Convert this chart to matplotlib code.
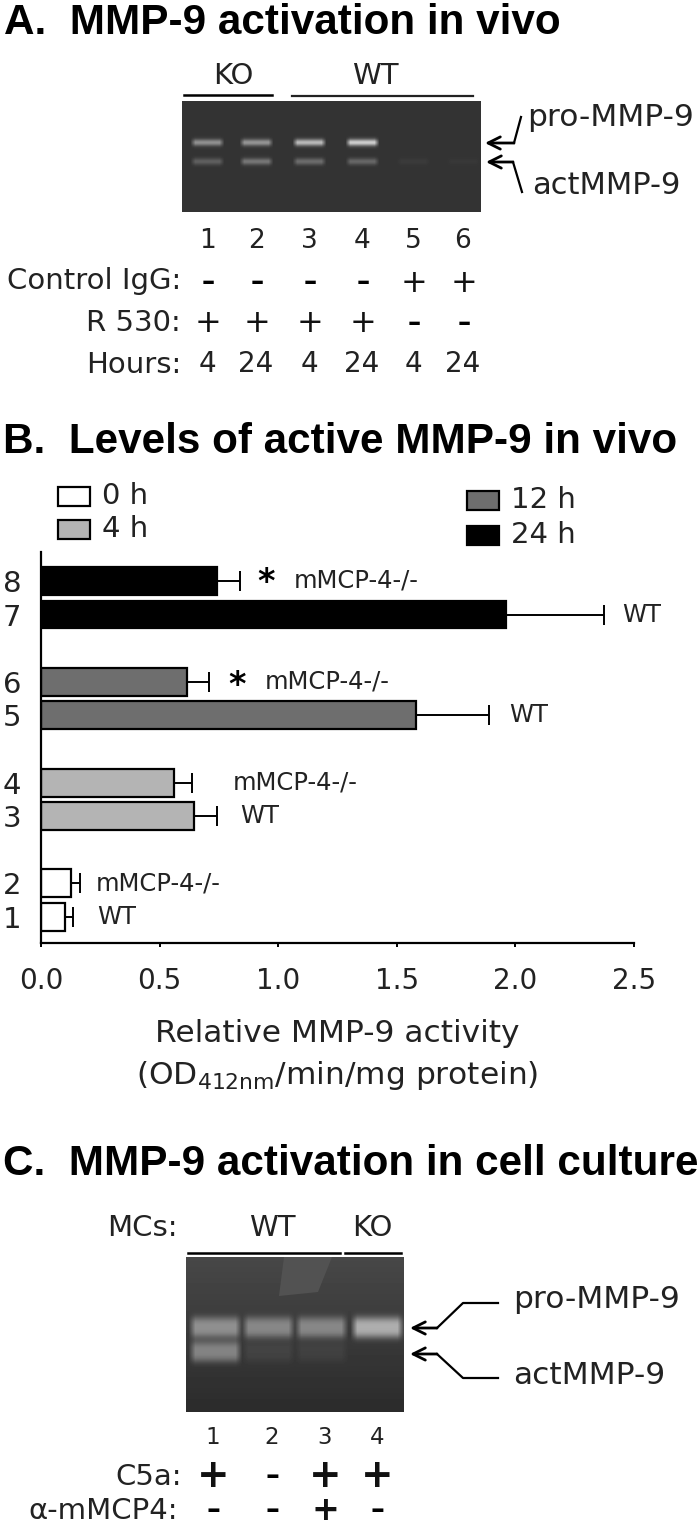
import numpy as np
import matplotlib
matplotlib.use("Agg")
import matplotlib.pyplot as plt
from matplotlib.patches import Rectangle, Polygon

plt.rcParams['font.family'] = ['DejaVu Sans']
plt.rcParams['mathtext.default'] = 'regular'

# Bar chart data (panel B)
lane_numbers = [1, 2, 3, 4, 5, 6, 7, 8]
activity = [0.10, 0.125, 0.645, 0.56, 1.58, 0.615, 1.96, 0.74]
activity_err = [0.035, 0.04, 0.095, 0.075, 0.31, 0.095, 0.415, 0.10]
bar_pos = [1, 2, 4, 5, 7, 8, 10, 11]
bar_colors = ['#ffffff', '#ffffff', '#b4b4b4', '#b4b4b4', '#6e6e6e', '#6e6e6e', '#000000', '#000000']
bar_labels = ['WT', 'mMCP-4-/-', 'WT', 'mMCP-4-/-', 'WT', 'mMCP-4-/-', 'WT', 'mMCP-4-/-']
label_x = [0.236, 0.232, 0.84, 0.81, 1.975, 0.945, 2.45, 1.067]
x_ticks = [0.0, 0.5, 1.0, 1.5, 2.0, 2.5]

# Gel bands, brightness by lane
gel_a_lanes = [207, 256, 309, 362, 413, 463]
gel_a_pro = [0.36, 0.38, 0.52, 0.60, 0.0, 0.0]
gel_a_act = [0.17, 0.26, 0.22, 0.20, 0.03, 0.02]
gel_c_lanes = [215, 268, 321, 377]
gel_c_pro = [0.33, 0.30, 0.30, 0.45]
gel_c_act = [0.30, 0.05, 0.04, 0.0]

# Lane sign rows
control_igg = ['-', '-', '-', '-', '+', '+']
r530 = ['+', '+', '+', '+', '-', '-']
hours = ['4', '24', '4', '24', '4', '24']
c5a = ['+', '-', '+', '+']
anti_mmcp4 = ['-', '-', '+', '-']

fig = plt.figure(figsize=(7.0, 15.29), dpi=100)

# Overlay in pixel coordinates for gels, text and arrows
over = fig.add_axes([0, 0, 1, 1])
over.axis('off')


def gel_image(x0, x1, y0, y1, lanes, pro, act, pro_y, act_y, half_w, soft, sig_y, power, bg_top, bg_bot):
    xx, yy = np.meshgrid(np.arange(x0, x1), np.arange(y0, y1))
    img = bg_top + (bg_bot - bg_top) * (yy - y0) / (y1 - y0)
    for cx, p, a in zip(lanes, pro, act):
        edge = np.clip((half_w - np.abs(xx - cx)) / soft, 0, 1)
        img = img + p * edge * np.exp(-(np.abs(yy - pro_y) / sig_y) ** power)
        img = img + a * edge * np.exp(-(np.abs(yy - act_y) / sig_y) ** power)
    return img


def label(x, y, s, size=21, ha='left', **kw):
    over.text(x, y, s, fontsize=size, ha=ha, va='center', color='#222222', **kw)


def heading(x, y, s):
    over.text(x, y, s, fontsize=30.4, ha='left', va='center', color='black',
              fontweight='bold', family='Liberation Sans')


def arrow(x_tip, y_tip, x_tail, y_tail):
    over.annotate('', xy=(x_tip, y_tip), xytext=(x_tail, y_tail),
                  arrowprops=dict(arrowstyle='->', color='black', lw=2, mutation_scale=22,
                                  shrinkA=0, shrinkB=0))


def sign(x, y, s, plus_size=23, minus_size=19, weight='normal'):
    # minus signs are heavy in the original, plus signs are thin
    if s == '-':
        over.text(x, y, '\u2013', fontsize=minus_size, ha='center', va='center', color='black', fontweight='bold')
    else:
        over.text(x, y, s, fontsize=plus_size, ha='center', va='center', color='#111111', fontweight=weight)


# -------------------- Panel A --------------------
heading(4, 23, 'A.  MMP-9 activation in vivo')
img_a = gel_image(182, 481, 101, 212, gel_a_lanes, gel_a_pro, gel_a_act, 142, 161, 17, 5, 3.4, 2, 0.2, 0.2)
over.imshow(img_a, extent=(182, 481, 212, 101), cmap='gray', vmin=0, vmax=1, aspect='auto', zorder=1)
label(233, 76, 'KO', ha='center')
label(375, 76, 'WT', ha='center')
over.plot([184, 272], [95, 95], color='black', lw=1.8)
over.plot([292, 473], [96, 96], color='#222222', lw=1.6)
label(527, 117, 'pro-MMP-9', size=22.5)
label(532, 185, 'actMMP-9', size=22)
arrow(485, 143, 514, 143)
over.plot([514, 521], [143, 117], color='black', lw=1.6)
arrow(486, 162, 513, 162)
over.plot([513, 522], [162, 192], color='black', lw=1.6)
label(181, 281, 'Control IgG:', ha='right')
label(181, 323, 'R 530:', ha='right')
label(181, 365, 'Hours:', ha='right')
for i in range(6):
    x = gel_a_lanes[i]
    label(x, 241, str(i + 1), size=19, ha='center')
    sign(x + 1, 283, control_igg[i])
    sign(x + 1, 324, r530[i])
    label(x, 364, hours[i], size=20, ha='center')

# -------------------- Panel B --------------------
heading(3, 442, 'B.  Levels of active MMP-9 in vivo')
ax = fig.add_axes([41 / 700, 1 - 943 / 1529, (634 - 41) / 700, (943 - 552) / 1529])
ax.patch.set_alpha(0)
ax.barh(bar_pos, activity, height=0.83, color=bar_colors, edgecolor='black', linewidth=1.6,
        xerr=[np.zeros(8), activity_err], error_kw=dict(ecolor='black', elinewidth=1.4, capsize=7, capthick=1.4))
ax.set_xlim(0, 2.5)
ax.set_ylim(0.226, 11.86)
ax.set_xticks(x_ticks)
ax.set_xticklabels(['%.1f' % v for v in x_ticks], fontsize=20, color='#222222')
ax.set_yticks(bar_pos)
ax.set_yticklabels(lane_numbers, fontsize=21, color='#222222')
ax.tick_params(axis='y', length=0, pad=14)
ax.tick_params(axis='x', length=3, width=1.4, pad=14)
ax.spines['top'].set_visible(False)
ax.spines['right'].set_visible(False)
ax.spines['left'].set_linewidth(1.6)
ax.spines['bottom'].set_linewidth(1.6)
for p, lx, s in zip(bar_pos, label_x, bar_labels):
    ax.text(lx, p, s, fontsize=17.5, va='center', ha='left', color='#222222')
ax.text(0.945 - 0.12, bar_pos[5] - 0.1, '*', fontsize=24, ha='center', va='center', fontweight='bold')
ax.text(1.067 - 0.12, bar_pos[7] - 0.05, '*', fontsize=24, ha='center', va='center', fontweight='bold')
label(337, 1033, 'Relative MMP-9 activity', size=22.5, ha='center')
label(337, 1075, '(OD$_{412nm}$/min/mg protein)', size=22.5, ha='center')

for x, y, c, s in [(58, 487, bar_colors[0], '0 h'), (58, 520, bar_colors[2], '4 h'),
                   (467, 491, bar_colors[4], '12 h'), (467, 526, bar_colors[6], '24 h')]:
    over.add_patch(Rectangle((x, y), 32, 19, facecolor=c, edgecolor='black', lw=1.6))
    label(x + 44, y + 9, s)

# -------------------- Panel C --------------------
heading(3, 1164, 'C.  MMP-9 activation in cell culture')
img_c = gel_image(186, 404, 1257, 1412, gel_c_lanes, gel_c_pro, gel_c_act, 1327, 1351, 27, 7, 10.5, 3, 0.28, 0.17)
over.imshow(img_c, extent=(186, 404, 1412, 1257), cmap='gray', vmin=0, vmax=1, aspect='auto', zorder=1)
over.add_patch(Polygon([(284, 1257), (332, 1257), (318, 1292), (279, 1296)], facecolor='#525252',
                       edgecolor='none', zorder=2))
label(178, 1228, 'MCs:', ha='right')
label(272, 1228, 'WT', ha='center')
label(372, 1228, 'KO', ha='center')
over.plot([188, 340], [1253, 1253], color='black', lw=1.8)
over.plot([345, 401], [1253, 1253], color='black', lw=1.8)
label(513, 1299, 'pro-MMP-9', size=22.5)
label(513, 1375, 'actMMP-9', size=22.5)
arrow(410, 1328, 437, 1328)
over.plot([437, 463, 498], [1328, 1303, 1303], color='black', lw=1.6)
arrow(410, 1354, 437, 1354)
over.plot([437, 463, 498], [1354, 1378, 1378], color='black', lw=1.6)
label(182, 1477, 'C5a:', ha='right')
label(178, 1511, '\u03b1-mMCP4:', ha='right')
lane_x_c = [213, 272, 325, 377]
for i in range(4):
    x = lane_x_c[i]
    label(x, 1437, str(i + 1), size=16.5, ha='center')
    sign(x, 1476, c5a[i], plus_size=28, minus_size=20, weight='bold')
    sign(x, 1510, anti_mmcp4[i], plus_size=24, minus_size=20, weight='bold')

over.set_xlim(0, 700)
over.set_ylim(1529, 0)
fig.savefig('out.png', dpi=100)
